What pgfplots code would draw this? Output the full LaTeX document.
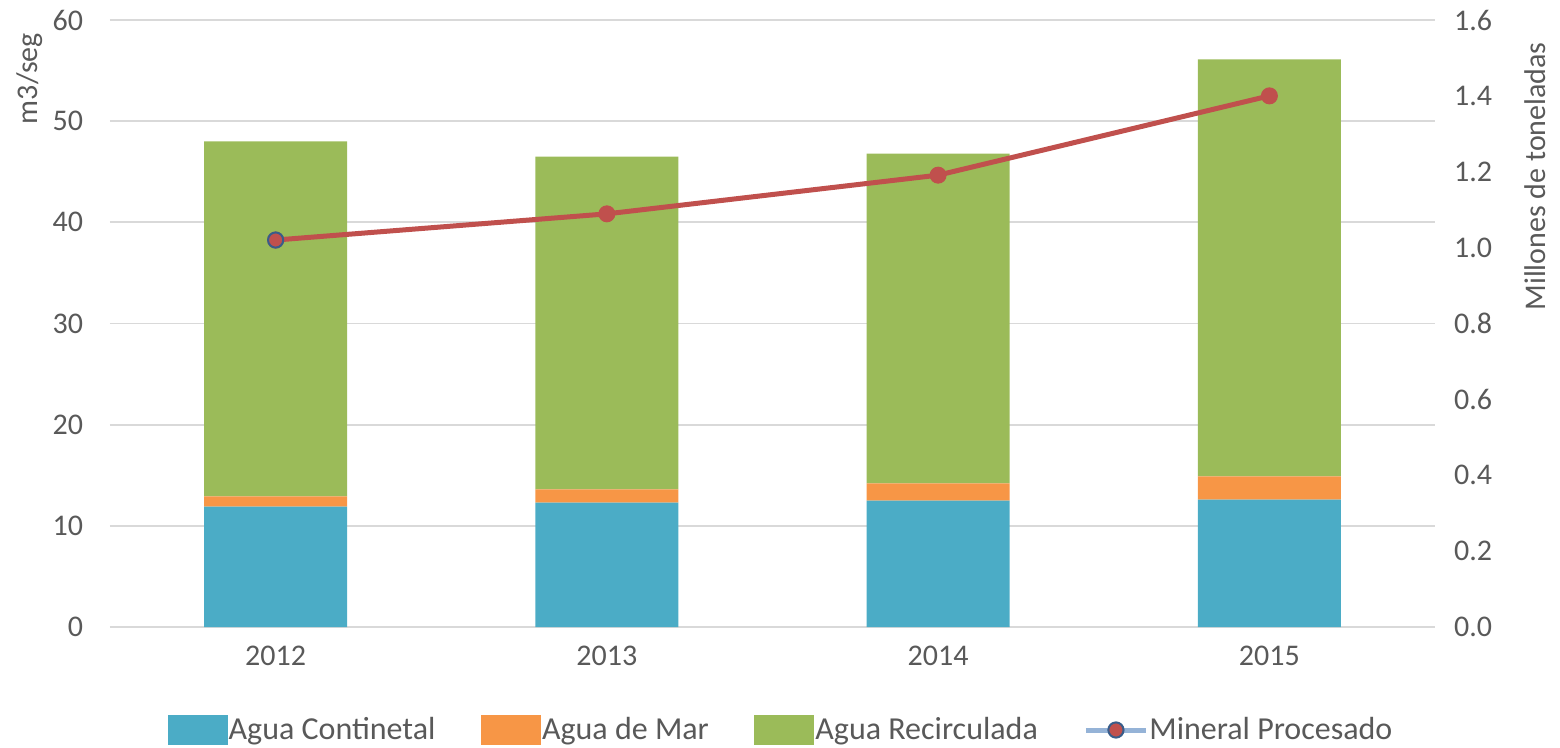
\documentclass[border=0pt]{standalone}
\usepackage{fontspec}
\setmainfont{Carlito}
\usepackage{pgfplots}
\pgfplotsset{compat=1.18}
\definecolor{cblue}{HTML}{4BACC6}
\definecolor{corange}{HTML}{F79646}
\definecolor{cgreen}{HTML}{9BBB59}
\definecolor{cred}{HTML}{C0504D}
\definecolor{cmark}{HTML}{385D8A}
\definecolor{clegline}{HTML}{95B3D7}
\definecolor{ctext}{HTML}{595959}
\definecolor{cgrid}{HTML}{D9D9D9}
\newcommand{\ff}{\fontsize{15bp}{18bp}\selectfont}
\newcommand{\fl}{\fontsize{16bp}{19bp}\selectfont}
\begin{document}
\begin{tikzpicture}
\path[use as bounding box] (-55bp,-60.5bp) rectangle (725bp,313.5bp);
\begin{axis}[
  scale only axis, width=662.5bp, height=303.5bp,
  xmin=-0.5, xmax=3.5, ymin=0, ymax=60,
  ybar stacked, bar width=0.432,
  xtick={0,1,2,3}, xticklabels={2012,2013,2014,2015},
  major x tick style={draw=none},
  extra x ticks={-0.5,0.5,1.5,2.5,3.5}, extra x tick labels={},
  extra x tick style={major tick length=5bp, tick align=outside, tick style={draw=cgrid, line width=1bp}, grid=none},
  ytick={0,10,...,60},
  ymajorgrids, grid style={draw=cgrid, line width=0.9bp},
  major y tick style={draw=none},
  axis x line*=bottom, axis y line*=left,
  x axis line style={draw=cgrid, line width=1bp, -},
  y axis line style={draw=none},
  tick label style={font=\ff, text=ctext},
  /pgf/number format/assume math mode=true,
  xticklabel style={yshift=-6bp},
  yticklabel style={xshift=-10bp},
  ylabel={m3/seg},
  ylabel style={font=\ff, text=ctext, at={(axis description cs:-0.0604,0.99)}, anchor=east},
  legend style={font=\fl, text=ctext, draw=none, fill=none, at={(axis description cs:0.5,0)}, anchor=center, yshift=-51.5bp, xshift=4bp, legend columns=4, inner xsep=0pt,
    /tikz/every even column/.append style={column sep=22.3bp},
    nodes={inner xsep=0.5bp}},
  legend image code/.code={\fill[#1] (0bp,-7.5bp) rectangle (30bp,7.5bp);},
  legend cell align=left,
]
\addplot[fill=cblue, draw=none] coordinates {(0,11.9) (1,12.3) (2,12.5) (3,12.6)};
\addlegendentry{Agua Continetal}
\addplot[fill=corange, draw=none] coordinates {(0,1.0) (1,1.3) (2,1.7) (3,2.3)};
\addlegendentry{Agua de Mar}
\addplot[fill=cgreen, draw=none] coordinates {(0,35.1) (1,32.9) (2,32.6) (3,41.2)};
\addlegendentry{Agua Recirculada}
\addlegendimage{legend image code/.code={\draw[line width=2.5bp, clegline] (0bp,0bp) -- (30bp,0bp); \draw[fill=cred, draw=cmark, line width=1bp] (15bp,0bp) circle (3.8bp);}}
\addlegendentry{Mineral Procesado}
\end{axis}
\begin{axis}[
  scale only axis, width=662.5bp, height=303.5bp,
  xmin=-0.5, xmax=3.5, ymin=0, ymax=1.6,
  ytick={0,0.2,...,1.6},
  axis x line=none, axis y line*=right,
  y axis line style={draw=none},
  major y tick style={draw=none},
  tick label style={font=\ff, text=ctext},
  /pgf/number format/assume math mode=true,
  yticklabel style={xshift=6bp, /pgf/number format/.cd, fixed, fixed zerofill, precision=1},
  ylabel={Millones de toneladas},
  ylabel style={font=\ff, text=ctext, at={(axis description cs:1.0755,0.975)}, anchor=east, rotate=0},
]
\addplot[color=cred, line width=2.5bp, mark=*, mark size=4bp, mark options={fill=cred, draw=cred, line width=0.5bp}] coordinates {(0,1.02) (1,1.089) (2,1.191) (3,1.40)};
\addplot[only marks, mark=*, mark size=3.8bp, mark options={fill=cred, draw=cmark, line width=1bp}, forget plot] coordinates {(0,1.02)};
\end{axis}
\end{tikzpicture}
\end{document}
